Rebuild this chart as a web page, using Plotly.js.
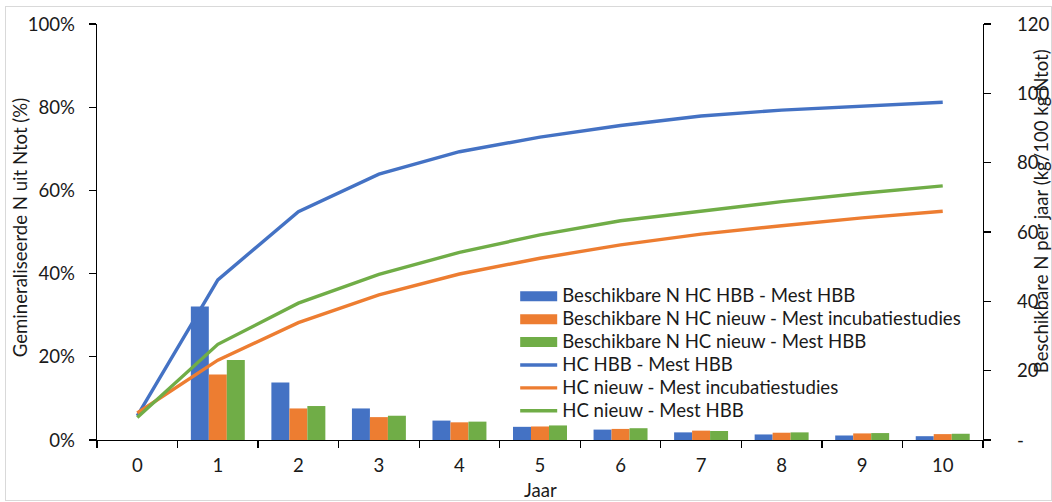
<!DOCTYPE html>
<html><head><meta charset="utf-8">
<script src="https://cdn.plot.ly/plotly-3.0.1.min.js"></script>
<style>
html,body{margin:0;padding:0;background:#fff;overflow:hidden;}
#frame{position:absolute;left:5px;top:6px;width:1047px;height:495px;border:1px solid #d9d9d9;box-sizing:border-box;}
#chart{position:absolute;left:0;top:0;width:1052px;height:502px;}
#chart .legendtext{font-size:18.6px !important;}
#chart .legend .scrollbox{clip-path:none !important;}
</style></head><body>
<div id="frame"></div>
<div id="chart"></div>
<script>
const years = ['0','1','2','3','4','5','6','7','8','9','10'];

// Bars: beschikbare N per jaar (kg/100 kg Ntot) - right axis
const barHcHbbMestHbb      = [null, 38.5, 16.6, 9.1, 5.6, 3.8, 3.0, 2.2, 1.6, 1.3, 1.1];
const barHcNieuwMestIncub  = [null, 18.9, 9.1, 6.6, 5.1, 3.9, 3.2, 2.7, 2.1, 1.9, 1.7];
const barHcNieuwMestHbb    = [null, 23.1, 9.8, 7.0, 5.3, 4.2, 3.4, 2.6, 2.2, 2.0, 1.8];

// Lines: gemineraliseerde N uit Ntot (fraction) - left axis
const lineHcHbbMestHbb     = [0.058, 0.385, 0.549, 0.639, 0.693, 0.728, 0.756, 0.779, 0.793, 0.803, 0.812];
const lineHcNieuwMestIncub = [0.065, 0.192, 0.282, 0.349, 0.399, 0.437, 0.469, 0.495, 0.515, 0.534, 0.550];
const lineHcNieuwMestHbb   = [0.054, 0.230, 0.329, 0.398, 0.451, 0.493, 0.527, 0.551, 0.573, 0.593, 0.611];

const names = [
  'Beschikbare N HC HBB - Mest HBB',
  'Beschikbare N HC nieuw - Mest incubatiestudies',
  'Beschikbare N HC nieuw - Mest HBB',
  'HC HBB - Mest HBB',
  'HC nieuw - Mest incubatiestudies',
  'HC nieuw - Mest HBB'
];
const rightTickVals = [0, 20, 40, 60, 80, 100, 120];
const rightTickText = ['-', '20', '40', '60', '80', '100', '120'];
const leftTitle = 'Gemineraliseerde N uit Ntot (%)';
const rightTitle = 'Beschikbare N per jaar (kg/100 kg Ntot)';
const xTitle = 'Jaar';

const BLUE = '#4472C4', ORANGE = '#ED7D31', GREEN = '#70AD47';
const FONT = 'Lato, "Open Sans", sans-serif';
const TXT = '#1a1a1a';
const FS = 18.6;

const bars = [barHcHbbMestHbb, barHcNieuwMestIncub, barHcNieuwMestHbb];
const lines = [lineHcHbbMestHbb, lineHcNieuwMestIncub, lineHcNieuwMestHbb];
const cols = [BLUE, ORANGE, GREEN];

const data = [];
bars.forEach((v, i) => data.push({
  type: 'bar', x: years, y: v, name: names[i], xaxis: 'x', yaxis: 'y',
  marker: {color: cols[i]}, showlegend: false, hoverinfo: 'skip'
}));
// legend-only swatches for the bar series (wide rectangles like the original)
bars.forEach((v, i) => data.push({
  type: 'scatter', mode: 'lines', x: [null], y: [null], name: names[i],
  xaxis: 'x', yaxis: 'y2', line: {color: cols[i], width: 11}, showlegend: true
}));
lines.forEach((v, i) => data.push({
  type: 'scatter', mode: 'lines', x: years, y: v, name: names[i + 3],
  xaxis: 'x', yaxis: 'y2', line: {color: cols[i], width: 3.4}
}));

const layout = {
  width: 1052, height: 502,
  margin: {l: 97, r: 69, t: 24, b: 62},
  paper_bgcolor: 'rgba(0,0,0,0)', plot_bgcolor: 'rgba(0,0,0,0)',
  font: {family: FONT, size: FS, color: TXT},
  barmode: 'group', bargap: 0.33, bargroupgap: 0,
  showlegend: true,
  legend: {
    x: 0.472, y: 0.385, xanchor: 'left', yanchor: 'top',
    bgcolor: 'rgba(0,0,0,0)', traceorder: 'normal',
    itemwidth: 37, tracegroupgap: 0,
    font: {family: FONT, size: 15.3, color: TXT}
  },
  xaxis: {
    type: 'category', categoryorder: 'array', categoryarray: years,
    showline: true, linecolor: '#000', linewidth: 1.3,
    ticks: 'outside', ticklen: 7, tickcolor: '#000', tickwidth: 1.3,
    tickson: 'boundaries', showgrid: false, zeroline: false,
    tickfont: {size: FS, color: TXT}, ticklabelstandoff: 8
  },
  yaxis: {
    side: 'right', range: [0, 120], tickvals: rightTickVals, ticktext: rightTickText,
    showline: true, linecolor: '#000', linewidth: 1.3,
    ticks: 'outside', ticklen: 7, tickcolor: '#000', tickwidth: 1.3,
    showgrid: false, zeroline: false,
    tickfont: {size: FS, color: TXT}, ticklabelstandoff: 22
  },
  yaxis2: {
    overlaying: 'y', side: 'left', range: [0, 1], dtick: 0.2, tick0: 0, tickformat: '.0%',
    showline: true, linecolor: '#000', linewidth: 1.3,
    ticks: 'outside', ticklen: 7, tickcolor: '#000', tickwidth: 1.3,
    showgrid: false, zeroline: false,
    tickfont: {size: FS, color: TXT}, ticklabelstandoff: 10
  },
  annotations: [
    {text: leftTitle, xref: 'paper', yref: 'paper', x: -0.086, y: 0.511,
     xanchor: 'center', yanchor: 'middle', textangle: -90, showarrow: false,
     font: {family: FONT, size: FS, color: TXT}},
    {text: rightTitle, xref: 'paper', yref: 'paper', x: 1.0655, y: 0.55,
     xanchor: 'center', yanchor: 'middle', textangle: -90, showarrow: false,
     font: {family: FONT, size: FS, color: TXT}},
    {text: xTitle, xref: 'paper', yref: 'paper', x: 0.5, y: -0.119,
     xanchor: 'center', yanchor: 'middle', showarrow: false, borderpad: 0,
     font: {family: FONT, size: FS, color: TXT}}
  ]
};

Plotly.newPlot('chart', data, layout, {staticPlot: true, displayModeBar: false});
</script>
</body></html>
